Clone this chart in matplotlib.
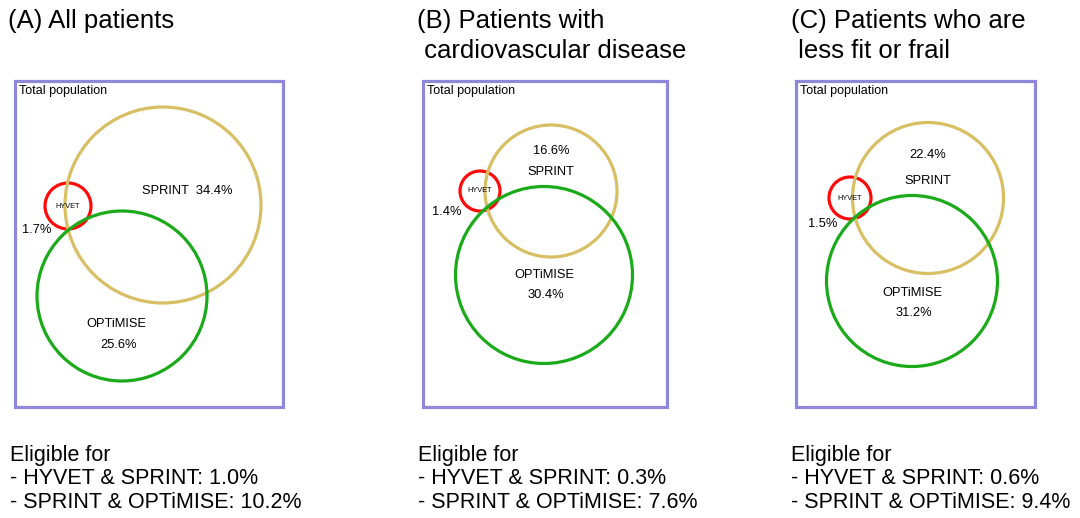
import matplotlib
matplotlib.use("Agg")
from matplotlib import pyplot as plt
from matplotlib.patches import Circle, Rectangle

plt.rcParams['font.family'] = ['Liberation Sans', 'DejaVu Sans']

# data: one entry per panel
titles = ['(A) All patients',
          '(B) Patients with\n cardiovascular disease',
          '(C) Patients who are\n less fit or frail']
hyvet_only = [1.7, 1.4, 1.5]
sprint_only = [34.4, 16.6, 22.4]
optimise_only = [25.6, 30.4, 31.2]
hyvet_sprint = [1.0, 0.3, 0.6]
sprint_optimise = [10.2, 7.6, 9.4]

# layout (pixel coords of the 1080x518 canvas)
panel_x = [8, 417, 791]
box = [(15, 81, 268, 326), (423, 81, 244, 326), (796, 81, 239, 326)]
hyvet_circ = [((68, 206), 23), ((480, 191), 20), ((850, 198), 21)]
sprint_circ = [((163, 205), 98), ((551, 191), 66), ((928, 198), 75.5)]
optimise_circ = [((122, 296), 85), ((544, 275), 88.5), ((912, 281), 85.5)]
hyvet_lab = [(37, 230), (447, 212), (823, 224)]

col_box = '#8f88d8'
col_hyvet = '#ff0a0a'
col_sprint = '#d8bf63'
col_optimise = '#1aaa1a'
lw = 2.3

fig = plt.figure(figsize=(10.8, 5.18), dpi=100)
ax = fig.add_axes([0, 0, 1, 1])
ax.set_xlim(0, 1080)
ax.set_ylim(518, 0)
ax.axis('off')

for i in range(3):
    # title
    ax.text(panel_x[i], 9, titles[i], fontsize=18.5, va='top', ha='left',
            linespacing=1.3)

    # total population box
    bx, by, bw, bh = box[i]
    ax.add_patch(Rectangle((bx, by), bw, bh, fill=False, ec=col_box, lw=lw))
    ax.text(bx + 4, by + 10, 'Total population', fontsize=9, va='center')

    for (c, r), col in [(hyvet_circ[i], col_hyvet), (sprint_circ[i], col_sprint),
                        (optimise_circ[i], col_optimise)]:
        ax.add_patch(Circle(c, r, fill=False, ec=col, lw=lw))

    # labels
    hx, hy = hyvet_circ[i][0]
    ax.text(hx, hy, 'HYVET', fontsize=5.3, ha='center', va='center')
    ax.text(hyvet_lab[i][0], hyvet_lab[i][1], '%.1f%%' % hyvet_only[i],
            fontsize=9.3, ha='center', va='center')
    sx, sy = sprint_circ[i][0]
    ox, oy = optimise_circ[i][0]
    if i == 0:
        ax.text(187, 191, 'SPRINT  %.1f%%' % sprint_only[i], fontsize=9.3,
                ha='center', va='center')
        ax.text(116, 324, 'OPTiMISE', fontsize=9.3, ha='center', va='center')
        ax.text(119, 345, '%.1f%%' % optimise_only[i], fontsize=9.3,
                ha='center', va='center')
    else:
        dy = 40 if i == 1 else 43
        ax.text(sx, sy - dy, '%.1f%%' % sprint_only[i], fontsize=9.3,
                ha='center', va='center')
        ax.text(sx, sy - dy + 21 + (5 if i == 2 else 0), 'SPRINT', fontsize=9.3,
                ha='center', va='center')
        ax.text(ox, oy + (0 if i == 1 else 12), 'OPTiMISE', fontsize=9.3,
                ha='center', va='center')
        ax.text(ox + 2, oy + (20 if i == 1 else 32), '%.1f%%' % optimise_only[i],
                fontsize=9.3, ha='center', va='center')

    # footnote
    note = ('Eligible for\n- HYVET & SPRINT: %.1f%%\n- SPRINT & OPTiMISE: %.1f%%'
            % (hyvet_sprint[i], sprint_optimise[i]))
    ax.text(bx - 5, 445, note, fontsize=15.5, va='top', ha='left',
            linespacing=1.15)

plt.savefig('out.png', dpi=100)
